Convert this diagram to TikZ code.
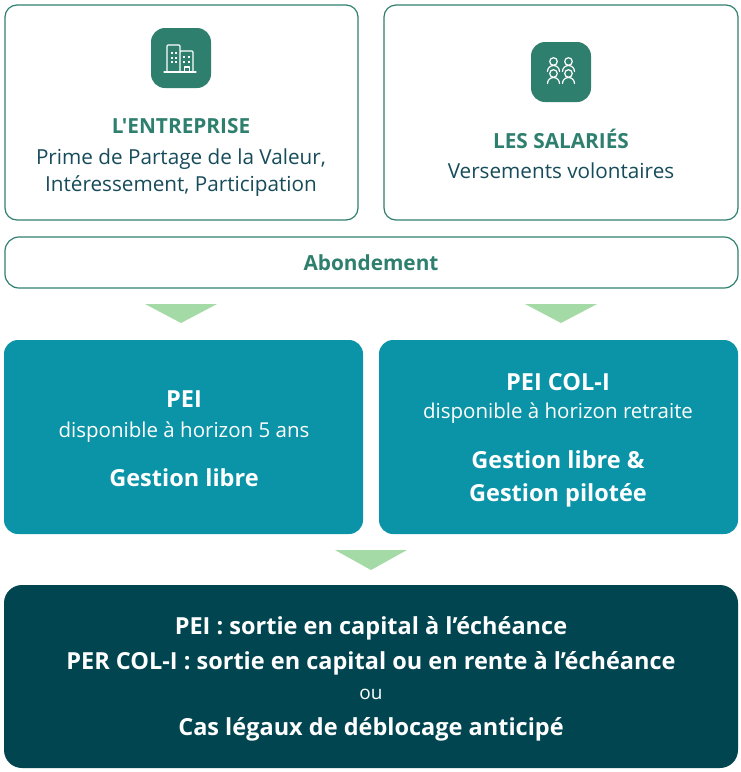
\documentclass[tikz,border=0pt]{standalone}
\usepackage{fontspec}
\setmainfont{Open Sans}
\newfontfamily\headfont{Open Sans}
\definecolor{sage}{HTML}{2F7F6F}
\definecolor{ink}{HTML}{164B5A}
\definecolor{lagoon}{HTML}{0B94A8}
\definecolor{abyss}{HTML}{004550}
\definecolor{mint}{HTML}{A4DAA5}
\tikzset{
  outbox/.style={draw=sage, line width=1.2pt, rounded corners=12pt, inner sep=0pt},
  planbox/.style={fill=lagoon, rounded corners=14pt, inner sep=0pt},
  exitbox/.style={fill=abyss, rounded corners=18pt, inner sep=0pt},
  iconbox/.style={fill=sage, rounded corners=14pt, minimum size=60pt, inner sep=0pt},
  headtxt/.style={text=sage, font=\fontsize{20.8}{24}\headfont\bfseries},
  bodytxt/.style={text=ink, font=\fontsize{20.7}{24}\selectfont},
  whitebold/.style={text=white, font=\fontsize{23.5}{27}\selectfont\bfseries},
  whitethin/.style={text=white, font=\fontsize{20.5}{24}\selectfont},
  exittxt/.style={text=white, font=\fontsize{23.5}{27}\selectfont\bfseries},
  icon/.style={draw=white, line width=1.2pt, line cap=round, line join=round}
}
\begin{document}
\begin{tikzpicture}[x=1pt, y=-1pt]
\useasboundingbox (0,0) rectangle (741,772);
% sources
\node[outbox, minimum width=353pt, minimum height=215pt] (ent) at (181.5,112.5) {};
\node[outbox, minimum width=354pt, minimum height=215pt] (sal) at (561,112.5) {};
\node[iconbox] (entico) at (181,58) {};
\node[iconbox] (salico) at (561,72) {};
% building
\draw[icon, rounded corners=1pt] (167,72) -- (167,45) -- (180,45) -- (180,51);
\draw[icon, rounded corners=1pt] (180,72) -- (180,51) -- (193,51) -- (193,72);
\draw[icon] (164,72) -- (196,72);
\foreach \wx in {172,176}
  \foreach \wy in {53,58,62}
    \fill[white] (\wx-0.9,\wy-0.9) rectangle (\wx+0.9,\wy+0.9);
\foreach \wx in {184,189}
  \foreach \wy in {57,62}
    \fill[white] (\wx-0.9,\wy-0.9) rectangle (\wx+0.9,\wy+0.9);
\draw[icon] (184.5,72) -- (184.5,67) -- (189.5,67) -- (189.5,72);
% people
\foreach \px in {553.5,568.5}
  \foreach \py in {61.5,73.5} {
    \draw[icon] (\px,\py) circle (3.8);
    \draw[icon] (\px-6,\py+10) arc[start angle=180, end angle=360, radius=6];
  }
\node[headtxt] (entT) at (181,126) {L'ENTREPRISE};
\node[bodytxt] (entA) at (181,159) {Prime de Partage de la Valeur,};
\node[bodytxt] (entB) at (181,186) {Intéressement, Participation};
\node[headtxt] (salT) at (561,139) {LES SALARIÉS};
\node[bodytxt] (salA) at (561,171) {Versements volontaires};
% abondement
\node[outbox, rounded corners=14pt, minimum width=733pt, minimum height=51pt] (abd) at (371.5,262.5) {};
\node[headtxt] (abdT) at (371,263) {Abondement};
\fill[mint] (145,304) -- (217,304) -- (181,323) -- cycle;
\fill[mint] (525,304) -- (597,304) -- (561,323) -- cycle;
% plans
\node[planbox, minimum width=359pt, minimum height=194pt] (pei) at (183.5,437) {};
\node[planbox, minimum width=359pt, minimum height=194pt] (col) at (558.5,437) {};
\node[whitebold] (peiT) at (184,399) {PEI};
\node[whitethin] (peiA) at (184,432) {disponible à horizon 5 ans};
\node[whitebold] (peiB) at (184,478) {Gestion libre};
\node[whitebold] (colT) at (558,382) {PEI COL-I};
\node[whitethin] (colA) at (558,413) {disponible à horizon retraite};
\node[whitebold] (colB) at (558,460) {Gestion libre \&};
\node[whitebold] (colC) at (558,495) {Gestion pilotée};
\fill[mint] (335,550) -- (407,550) -- (371,570) -- cycle;
% sortie
\node[exitbox, minimum width=734pt, minimum height=183pt] (out) at (371,676.5) {};
\node[exittxt] (outA) at (371,628) {PEI : sortie en capital à l’échéance};
\node[exittxt] (outB) at (371,663) {PER COL-I : sortie en capital ou en rente à l’échéance};
\node[text=white, font=\fontsize{19}{22}\selectfont] (outC) at (371,694) {ou};
\node[exittxt] (outD) at (371,729) {Cas légaux de déblocage anticipé};
\end{tikzpicture}
\end{document}
